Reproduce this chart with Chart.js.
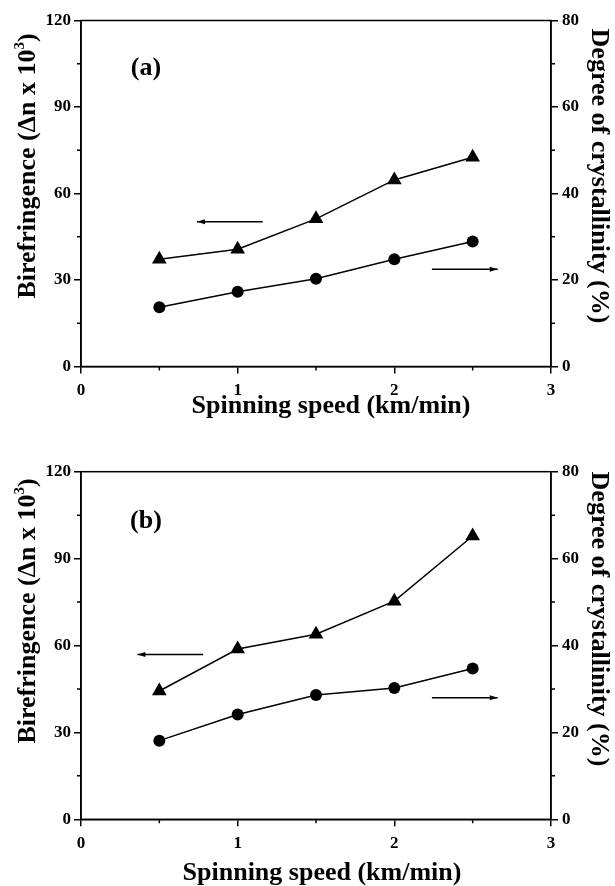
<!DOCTYPE html>
<html>
<head>
<meta charset="utf-8">
<script src="https://cdn.jsdelivr.net/npm/chart.js@4/dist/chart.umd.min.js"></script>
<style>
  html, body { margin: 0; padding: 0; background: #fff; }
  #fig { position: relative; width: 615px; height: 886px; overflow: hidden; }
  canvas { position: absolute; left: 0; }
  .t { position: absolute; white-space: nowrap; font: bold 26px "Liberation Serif", "Times New Roman", serif; color: #000; line-height: 1; }
  .t sup { font-size: 15px; line-height: 0; vertical-align: 0.75em; }
</style>
</head>
<body>
<div id="fig">
  <canvas id="ca" width="615" height="430" style="top:0"></canvas>
  <canvas id="cb" width="615" height="456" style="top:430px"></canvas>

  <div class="t" data-pos="146,67,0">(a)</div>
  <div class="t" data-pos="27,166,-90">Birefringence (Δn x 10<sup>3</sup>)</div>
  <div class="t" data-pos="600,176,90">Degree of crystallinity (%)</div>
  <div class="t" data-pos="331,405,0">Spinning speed (km/min)</div>

  <div class="t" data-pos="146,520,0">(b)</div>
  <div class="t" data-pos="27,611,-90">Birefringence (Δn x 10<sup>3</sup>)</div>
  <div class="t" data-pos="600,619,90">Degree of crystallinity (%)</div>
  <div class="t" data-pos="322,872,0">Spinning speed (km/min)</div>
</div>
<script>
/* ==== data ========================================================= */
const speed  = [0.5, 1, 1.5, 2, 2.5];            // km/min
const birefA = [37.2, 40.7, 51.2, 64.7, 72.6];    // left axis, panel (a)
const crystA = [13.7, 17.3, 20.3, 24.8, 28.9];    // right axis, panel (a)
const birefB = [44.3, 58.8, 63.9, 75.3, 97.8];    // left axis, panel (b)
const crystB = [18.1, 24.1, 28.6, 30.2, 34.7];    // right axis, panel (b)

const xTicks     = [0, 1, 2, 3];
const leftTicks  = [0, 30, 60, 90, 120];
const rightTicks = [0, 20, 40, 60, 80];

// arrows: [x from, x to (head), y, axis]
const arrowsA = [[1.16, 0.74, 50.2, 'y'], [2.24, 2.66, 22.5, 'y2']];
const arrowsB = [[0.78, 0.36, 56.9, 'y'], [2.24, 2.66, 28.0, 'y2']];

/* ==== helpers ====================================================== */
document.querySelectorAll('.t').forEach(el => {
  const [x, y, r] = el.dataset.pos.split(',').map(Number);
  el.style.left = x + 'px'; el.style.top = y + 'px';
  el.style.transform = `translate(-50%,-50%) rotate(${r}deg)`;
});

const FONT = { family: '"Liberation Serif", "Times New Roman", serif', weight: 'bold', size: 17 };
const BLACK = '#000';

// frame, minor ticks, arrow heads
const extras = {
  id: 'extras',
  afterDatasetsDraw(chart) {
    const { ctx, chartArea: a, scales } = chart;
    ctx.save();
    ctx.strokeStyle = BLACK; ctx.fillStyle = BLACK; ctx.lineWidth = 1.5;
    ctx.strokeRect(a.left, a.top, a.right - a.left, a.bottom - a.top);

    const mids = s => s.ticks.slice(1).map((t, i) => (t.value + s.ticks[i].value) / 2);
    ctx.beginPath();
    mids(scales.x).forEach(v => { const p = scales.x.getPixelForValue(v); ctx.moveTo(p, a.bottom); ctx.lineTo(p, a.bottom + 4); });
    mids(scales.y).forEach(v => { const p = scales.y.getPixelForValue(v); ctx.moveTo(a.left, p); ctx.lineTo(a.left - 4, p); });
    mids(scales.y2).forEach(v => { const p = scales.y2.getPixelForValue(v); ctx.moveTo(a.right, p); ctx.lineTo(a.right + 4, p); });
    ctx.stroke();

    chart.data.datasets.forEach((ds, i) => {
      if (ds.label !== 'arrow') return;
      const [p0, p1] = chart.getDatasetMeta(i).data;
      const d = Math.sign(p1.x - p0.x);
      ctx.beginPath();
      ctx.moveTo(p1.x, p1.y);
      ctx.lineTo(p1.x - d * 8, p1.y - 2.5);
      ctx.lineTo(p1.x - d * 8, p1.y + 2.5);
      ctx.closePath(); ctx.fill();
    });
    ctx.restore();
  }
};

const axisCommon = (ticks, min, max, fit, pad) => ({
  min, max,
  afterBuildTicks: s => { s.ticks = ticks.map(v => ({ value: v })); },
  afterFit: fit,
  ticks: { font: FONT, color: BLACK, padding: pad },
  grid: { drawOnChartArea: false, tickLength: 7, color: BLACK, lineWidth: 1.5 },
  border: { color: BLACK, width: 1.5 }
});

/* ==== panels ======================================================= */
function panel(id, biref, cryst, arrows, padTop, xH) {
  const pts = vals => speed.map((x, i) => ({ x, y: vals[i] }));
  return new Chart(document.getElementById(id), {
    type: 'line',
    data: {
      datasets: [
        { label: 'biref', data: pts(biref), yAxisID: 'y', pointStyle: 'triangle', pointRadius: 8.5,
          borderColor: BLACK, backgroundColor: BLACK, borderWidth: 1.5, pointBorderWidth: 0 },
        { label: 'cryst', data: pts(cryst), yAxisID: 'y2', pointStyle: 'circle', pointRadius: 6,
          borderColor: BLACK, backgroundColor: BLACK, borderWidth: 1.5, pointBorderWidth: 0 },
        ...arrows.map(a => ({
          label: 'arrow', data: [{ x: a[0], y: a[2] }, { x: a[1], y: a[2] }], yAxisID: a[3],
          pointRadius: 0, borderColor: BLACK, borderWidth: 1.5
        }))
      ]
    },
    options: {
      responsive: false, animation: false, devicePixelRatio: 1,
      layout: { padding: { top: padTop, left: 0, right: 0, bottom: 0 } },
      plugins: { legend: { display: false }, tooltip: { enabled: false } },
      scales: {
        x: { type: 'linear', ...axisCommon(xTicks, 0, 3, s => { s.height = xH; }, 7) },
        y: { position: 'left', ...axisCommon(leftTicks, 0, 120, s => { s.width = 81; }, 3) },
        y2: { position: 'right', ...axisCommon(rightTicks, 0, 80, s => { s.width = 64; }, 4) }
      }
    },
    plugins: [extras]
  });
}

panel('ca', birefA, crystA, arrowsA, 20.5, 63.5);
panel('cb', birefB, crystB, arrowsB, 41.7, 66.7);
</script>
</body>
</html>
